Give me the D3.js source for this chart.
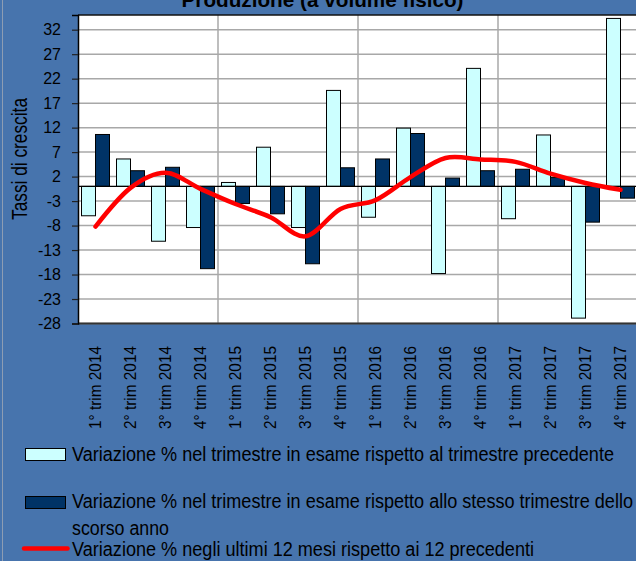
<!DOCTYPE html>
<html>
<head>
<meta charset="utf-8">
<script src="https://cdn.jsdelivr.net/npm/d3@7"></script>
<style>
  html, body { margin: 0; padding: 0; background: #4774ad; }
  svg { display: block; }
  text { font-family: "Liberation Sans", Arial, sans-serif; fill: #000; }
</style>
</head>
<body>
<svg id="chart" width="636" height="561"></svg>
<script>
// Quarters on the category axis
const categories = [
  "1° trim 2014", "2° trim 2014", "3° trim 2014", "4° trim 2014",
  "1° trim 2015", "2° trim 2015", "3° trim 2015", "4° trim 2015",
  "1° trim 2016", "2° trim 2016", "3° trim 2016", "4° trim 2016",
  "1° trim 2017", "2° trim 2017", "3° trim 2017", "4° trim 2017"
];
// % change vs previous quarter
const qoqValues = [-6.0, 5.6, -11.2, -8.4, 0.8, 8.0, -8.4, 19.6, -6.3, 11.9, -17.8, 24.1, -6.6, 10.5, -26.9, 34.3];
// % change vs same quarter of previous year
const yoyValues = [10.6, 3.2, 3.9, -16.8, -3.5, -5.6, -15.8, 3.8, 5.6, 10.8, 1.7, 3.2, 3.5, 1.8, -7.3, -2.4];
// % change of last 12 months vs previous 12
const rolling12Values = [-8.2, -0.3, 2.8, -0.5, -3.6, -6.3, -10.2, -4.6, -2.8, 1.9, 5.8, 5.5, 5.0, 2.6, 0.7, -0.7];
// Value axis ticks
const yTicks = [-28, -23, -18, -13, -8, -3, 2, 7, 12, 17, 22, 27, 32];
const seriesNames = [
  "Variazione % nel trimestre in esame rispetto al trimestre precedente",
  "Variazione % nel trimestre in esame rispetto allo stesso trimestre dello",
  "scorso anno",
  "Variazione % negli ultimi 12 mesi rispetto ai 12 precedenti"
];
const titleText = "Produzione (a volume fisico)";
const yTitle = "Tassi di crescita";

const W = 636, H = 561;
const plot = { left: 78, right: 638, top: 15, bottom: 323.5 };
const colors = { bg: "#4774ad", qoq: "#ccffff", yoy: "#003366", line: "#ff0000", grid: "#a8a8a8" };

const svg = d3.select("#chart");
svg.append("rect").attr("width", W).attr("height", H).attr("fill", colors.bg);
// chart area frame on the left
svg.append("line").attr("x1", 2.5).attr("x2", 2.5).attr("y1", 0).attr("y2", H)
  .attr("stroke", "#8d9db3").attr("stroke-width", 1);

const x0 = d3.scaleBand().domain(categories).range([plot.left, plot.right])
  .paddingInner(0.2).paddingOuter(0.1);
const x1 = d3.scaleBand().domain(["qoq", "yoy"]).range([0, x0.bandwidth()]);
const y = d3.scaleLinear().domain([-28, 35]).range([plot.bottom, plot.top]);

// title (partly above the visible area)
svg.append("text").attr("x", 322.5).attr("y", 7).attr("text-anchor", "middle")
  .attr("font-size", 21).attr("font-weight", "bold")
  .attr("textLength", 282).attr("lengthAdjust", "spacingAndGlyphs")
  .text(titleText);

// plot background
svg.append("rect").attr("x", plot.left).attr("y", plot.top)
  .attr("width", plot.right - plot.left).attr("height", plot.bottom - plot.top)
  .attr("fill", "#fff");

// horizontal gridlines
svg.append("g").selectAll("line").data(yTicks).join("line")
  .attr("x1", plot.left).attr("x2", plot.right)
  .attr("y1", d => y(d)).attr("y2", d => y(d))
  .attr("stroke", colors.grid).attr("stroke-width", 1.5);

// vertical gridlines every four quarters
const gap = x0.step() * x0.paddingInner() / 2;
svg.append("g").selectAll("line").data(categories.filter((c, i) => i > 0 && i % 4 === 0)).join("line")
  .attr("x1", d => x0(d) - gap).attr("x2", d => x0(d) - gap)
  .attr("y1", plot.top).attr("y2", plot.bottom)
  .attr("stroke", colors.grid).attr("stroke-width", 1.5);

// bars
const barData = categories.flatMap((c, i) => [
  { c, key: "qoq", v: qoqValues[i] },
  { c, key: "yoy", v: yoyValues[i] }
]);
svg.append("g").selectAll("rect").data(barData).join("rect")
  .attr("x", d => x0(d.c) + x1(d.key))
  .attr("width", x1.bandwidth())
  .attr("y", d => Math.min(y(d.v), y(0)))
  .attr("height", d => Math.abs(y(d.v) - y(0)))
  .attr("fill", d => colors[d.key])
  .attr("stroke", "#000").attr("stroke-width", 1);

// category axis line at zero
svg.append("line").attr("x1", plot.left).attr("x2", plot.right)
  .attr("y1", y(0)).attr("y2", y(0)).attr("stroke", "#000").attr("stroke-width", 1.2);

// 12-month smoothed line
const lineGen = d3.line()
  .x((d, i) => x0(categories[i]) + x0.bandwidth() / 2)
  .y(d => y(d))
  .curve(d3.curveCardinal.tension(0));
svg.append("path").datum(rolling12Values).attr("d", lineGen)
  .attr("fill", "none").attr("stroke", colors.line).attr("stroke-width", 4.5)
  .attr("stroke-linecap", "round").attr("stroke-linejoin", "round");

// plot frame top/bottom
svg.append("line").attr("x1", plot.left).attr("x2", plot.right)
  .attr("y1", plot.top).attr("y2", plot.top).attr("stroke", "#111").attr("stroke-width", 1.5);
svg.append("line").attr("x1", plot.left).attr("x2", plot.right)
  .attr("y1", plot.bottom).attr("y2", plot.bottom).attr("stroke", "#333").attr("stroke-width", 2);

// value axis (plain hyphen for negatives)
const yAxis = svg.append("g").attr("transform", `translate(${plot.left},0)`)
  .call(d3.axisLeft(y).tickValues(yTicks).tickSize(6).tickPadding(11).tickFormat(d => String(d)));
yAxis.select(".domain").attr("stroke", "#000").attr("stroke-width", 1.5);
yAxis.selectAll(".tick line").attr("stroke", "#222").attr("stroke-width", 1.2);
yAxis.selectAll(".tick text").attr("font-size", 16)
  .attr("font-family", "'Liberation Sans', Arial, sans-serif").attr("fill", "#000");

// value axis title
svg.append("text").attr("transform", "translate(26.5,159) rotate(-90)")
  .attr("text-anchor", "middle").attr("font-size", 22)
  .attr("textLength", 122).attr("lengthAdjust", "spacingAndGlyphs")
  .text(yTitle);

// category labels
svg.append("g").selectAll("text").data(categories).join("text")
  .attr("transform", d => `translate(${x0(d) + x0.bandwidth() / 2},346) rotate(-90)`)
  .attr("text-anchor", "end").attr("dy", "0.31em").attr("font-size", 17)
  .attr("textLength", 83).attr("lengthAdjust", "spacingAndGlyphs")
  .text(d => d);

// legend
const lg = svg.append("g");
lg.append("rect").attr("x", 25.5).attr("y", 448.5).attr("width", 40).attr("height", 12)
  .attr("fill", colors.qoq).attr("stroke", "#000");
lg.append("text").attr("x", 72).attr("y", 461).attr("font-size", 19.5)
  .attr("textLength", 542).attr("lengthAdjust", "spacingAndGlyphs").text(seriesNames[0]);
lg.append("rect").attr("x", 25.5).attr("y", 496.5).attr("width", 40).attr("height", 12)
  .attr("fill", colors.yoy).attr("stroke", "#000");
lg.append("text").attr("x", 72).attr("y", 507.5).attr("font-size", 19.5)
  .attr("textLength", 561).attr("lengthAdjust", "spacingAndGlyphs").text(seriesNames[1]);
lg.append("text").attr("x", 72).attr("y", 534.5).attr("font-size", 19.5)
  .attr("textLength", 97).attr("lengthAdjust", "spacingAndGlyphs").text(seriesNames[2]);
lg.append("line").attr("x1", 24).attr("x2", 67.5).attr("y1", 548.5).attr("y2", 548.5)
  .attr("stroke", colors.line).attr("stroke-width", 4.5).attr("stroke-linecap", "round");
lg.append("text").attr("x", 72).attr("y", 556).attr("font-size", 19.5)
  .attr("textLength", 462).attr("lengthAdjust", "spacingAndGlyphs").text(seriesNames[3]);
</script>
</body>
</html>
